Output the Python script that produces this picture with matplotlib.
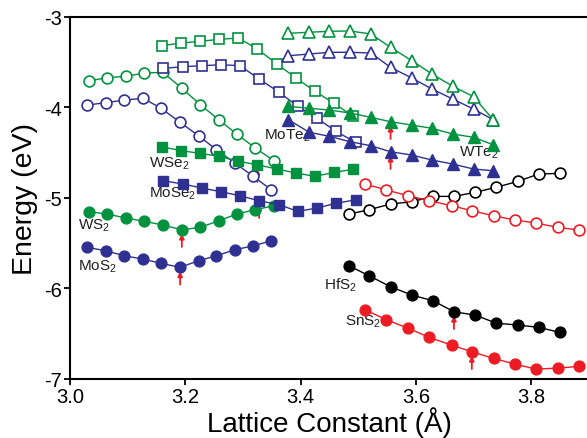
import matplotlib
matplotlib.use("Agg")
import matplotlib.pyplot as plt

plt.rcParams['font.family'] = ['Liberation Sans', 'DejaVu Sans']
plt.rcParams['mathtext.fontset'] = 'custom'
plt.rcParams['mathtext.rm'] = 'Liberation Sans'
plt.rcParams['mathtext.it'] = 'Liberation Sans:italic'
plt.rcParams['mathtext.bf'] = 'Liberation Sans:bold'
plt.rcParams['axes.unicode_minus'] = False

# ---------------- data ----------------
x_mos2 = [3.030, 3.062, 3.094, 3.127, 3.158, 3.191, 3.223, 3.254, 3.286, 3.318, 3.349]
x_ws2 = [3.033, 3.065, 3.097, 3.129, 3.161, 3.194, 3.226, 3.258, 3.289, 3.321, 3.354]
x_mose2 = [3.162, 3.196, 3.229, 3.262, 3.295, 3.328, 3.363, 3.395, 3.428, 3.461, 3.496]
x_wse2 = [3.159, 3.193, 3.226, 3.259, 3.292, 3.325, 3.359, 3.392, 3.425, 3.458, 3.491]
x_te2 = [3.379, 3.415, 3.450, 3.486, 3.522, 3.556, 3.593, 3.628, 3.664, 3.700, 3.734]
x_hfs2 = [3.484, 3.519, 3.556, 3.593, 3.630, 3.666, 3.703, 3.739, 3.777, 3.813, 3.850]
x_sns2 = [3.512, 3.549, 3.587, 3.623, 3.662, 3.697, 3.735, 3.772, 3.808, 3.846, 3.883]

# filled symbols
mos2_f = [-5.547, -5.585, -5.640, -5.677, -5.724, -5.768, -5.695, -5.640, -5.574, -5.530, -5.475]
ws2_f = [-5.154, -5.180, -5.224, -5.260, -5.301, -5.353, -5.327, -5.254, -5.180, -5.132, -5.088]
mose2_f = [-4.812, -4.849, -4.893, -4.934, -4.978, -5.033, -5.077, -5.150, -5.114, -5.062, -5.022]
wse2_f = [-4.437, -4.481, -4.510, -4.543, -4.598, -4.636, -4.683, -4.727, -4.764, -4.720, -4.687]
mote2_f = [-4.139, -4.278, -4.322, -4.382, -4.426, -4.492, -4.529, -4.584, -4.628, -4.683, -4.702]
wte2_f = [-3.991, -4.013, -4.032, -4.065, -4.113, -4.161, -4.198, -4.234, -4.297, -4.333, -4.415]
hfs2_f = [-5.751, -5.861, -5.982, -6.074, -6.137, -6.258, -6.295, -6.383, -6.405, -6.430, -6.486]
sns2_f = [-6.236, -6.347, -6.441, -6.541, -6.626, -6.700, -6.773, -6.836, -6.891, -6.880, -6.861]

# open symbols
mos2_o = [-3.977, -3.951, -3.922, -3.903, -4.013, -4.168, -4.316, -4.470, -4.617, -4.764, -4.912]
ws2_o = [-3.709, -3.675, -3.660, -3.624, -3.616, -3.792, -3.973, -4.139, -4.297, -4.448, -4.595]
mose2_o = [-3.572, -3.554, -3.543, -3.532, -3.543, -3.690, -3.837, -3.991, -4.120, -4.267, -4.389]
wse2_o = [-3.322, -3.293, -3.274, -3.252, -3.237, -3.359, -3.524, -3.679, -3.826, -3.958, -4.101]
mote2_o = [-3.433, -3.414, -3.395, -3.395, -3.403, -3.561, -3.679, -3.800, -3.911, -4.021, -4.139]
wte2_o = [-3.185, -3.174, -3.163, -3.160, -3.193, -3.340, -3.488, -3.635, -3.770, -3.885, -4.139]
hfs2_o = [-5.180, -5.132, -5.069, -5.044, -4.985, -4.985, -4.940, -4.885, -4.819, -4.738, -4.731]
sns2_o = [-4.849, -4.915, -4.978, -5.033, -5.088, -5.143, -5.199, -5.246, -5.279, -5.327, -5.356]

labels = ['MoS$_2$', 'WS$_2$', 'MoSe$_2$', 'WSe$_2$', 'MoTe$_2$', 'WTe$_2$', 'HfS$_2$', 'SnS$_2$']
label_xy = [(3.014, -5.75), (3.014, -5.30), (3.137, -4.95), (3.137, -4.61),
            (3.336, -4.30), (3.675, -4.495), (3.440, -5.95), (3.477, -6.36)]
eq_index = 5  # unstrained lattice constant (red arrows)

x_ticks = [3.0, 3.2, 3.4, 3.6, 3.8]
y_ticks = [-7, -6, -5, -4, -3]

# ---------------- style ----------------
GREEN = '#00923F'
BLUE = '#2E3192'
RED = '#ED1C24'
BLACK = '#000000'

series = [
    (x_mos2, mos2_f, mos2_o, BLUE, 'o'),
    (x_ws2, ws2_f, ws2_o, GREEN, 'o'),
    (x_mose2, mose2_f, mose2_o, BLUE, 's'),
    (x_wse2, wse2_f, wse2_o, GREEN, 's'),
    (x_te2, mote2_f, mote2_o, BLUE, '^'),
    (x_te2, wte2_f, wte2_o, GREEN, '^'),
    (x_hfs2, hfs2_f, hfs2_o, BLACK, 'o'),
    (x_sns2, sns2_f, sns2_o, RED, 'o'),
]
msize = {'o': 7.8, 's': 7.0, '^': 8.0}

fig = plt.figure(figsize=(5.87, 4.39), dpi=100)
ax = fig.add_axes([70 / 587, 59 / 439, 518.85 / 587, 362.5 / 439])

for xs, yf, yo, col, mk in series:
    ax.plot(xs, yo, '-', color=col, lw=1.0, marker=mk, ms=msize[mk],
            mfc='white', mec=col, mew=1.2, zorder=3)
    ax.plot(xs, yf, '-', color=col, lw=1.0, marker=mk, ms=msize[mk],
            mfc=col, mec=col, mew=1.0, zorder=4)
    xe, ye = xs[eq_index], yf[eq_index]
    ax.annotate('', xy=(xe, ye - 0.045), xytext=(xe, ye - 0.19),
                arrowprops=dict(arrowstyle='-|>', color=RED, lw=1.3,
                                mutation_scale=7, shrinkA=0, shrinkB=0),
                zorder=2)

for lab, (lx, ly) in zip(labels, label_xy):
    ax.text(lx, ly, lab, fontsize=11, ha='left', va='center', color='#231F20')

ax.set_xlim(3.0, 3.9)
ax.set_ylim(-7, -3)
ax.set_xticks(x_ticks)
ax.set_xticklabels([f'{v:.1f}' for v in x_ticks])
ax.set_yticks(y_ticks)
ax.set_yticklabels([f'{v:d}' for v in y_ticks])
ax.tick_params(direction='out', length=4, width=1.3, labelsize=14.5, pad=2)
for s in ax.spines.values():
    s.set_linewidth(1.5)
ax.set_xlabel('Lattice Constant (Å)', fontsize=20, labelpad=0)
ax.set_ylabel('Energy (eV)', fontsize=20.5, labelpad=4)

fig.savefig('out.png', dpi=100)
